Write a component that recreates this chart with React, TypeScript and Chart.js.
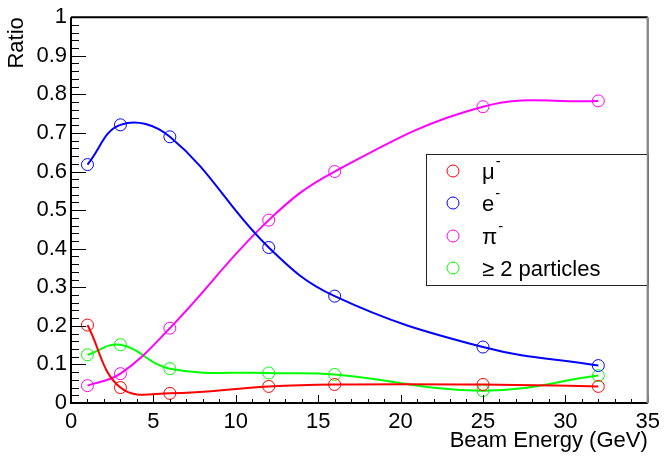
import React, { useEffect, useRef } from 'react';
import { Chart, registerables } from 'chart.js';

Chart.register(...registerables);

const energies = [1, 3, 6, 12, 16, 25, 32];
const muonRatio = [0.202, 0.04, 0.025, 0.043, 0.048, 0.048, 0.043];
const electronRatio = [0.618, 0.721, 0.69, 0.403, 0.277, 0.145, 0.097];
const pionRatio = [0.045, 0.076, 0.194, 0.474, 0.6, 0.768, 0.783];
const multiRatio = [0.125, 0.151, 0.089, 0.078, 0.074, 0.032, 0.071];

const seriesNames = ['μ', 'e', 'π', '≥ 2 particles'];
const seriesSup = ['-', '-', '-', ''];
const seriesColors = ['#ff0000', '#0000ff', '#ff00ff', '#00ff00'];
const seriesValues = [muonRatio, electronRatio, pionRatio, multiRatio];

const xTickLabels = ['0', '5', '10', '15', '20', '25', '30', '35'];
const yTickLabels = ['0', '0.1', '0.2', '0.3', '0.4', '0.5', '0.6', '0.7', '0.8', '0.9', '1'];
const xTitle = 'Beam Energy (GeV)';
const yTitle = 'Ratio';

const FONT = '"Liberation Sans", Arial, sans-serif';

const framePlugin = {
  id: 'rootFrame',
  afterDatasetsDraw(chart: any) {
    const { ctx, chartArea: a, scales } = chart;
    const xs = scales.x;
    const ys = scales.y;
    ctx.save();
    // ticks (inward)
    ctx.strokeStyle = '#000';
    ctx.lineWidth = 1;
    ctx.beginPath();
    for (let v = 0; v <= 35 + 1e-9; v += 1) {
      const px = Math.round(xs.getPixelForValue(v)) + 0.5;
      const len = Math.abs(v % 5) < 1e-9 ? 8 : 4;
      ctx.moveTo(px, a.bottom);
      ctx.lineTo(px, a.bottom - len);
    }
    for (let i = 0; i <= 50; i++) {
      const v = i * 0.02;
      const py = Math.round(ys.getPixelForValue(v)) + 0.5;
      const len = i % 5 === 0 ? 15 : 8;
      ctx.moveTo(a.left, py);
      ctx.lineTo(a.left + len, py);
    }
    ctx.stroke();
    // frame
    ctx.beginPath();
    ctx.lineWidth = 2;
    ctx.strokeStyle = '#000';
    ctx.moveTo(a.left, a.top);
    ctx.lineTo(a.right, a.top);
    ctx.moveTo(a.left, a.top);
    ctx.lineTo(a.left, a.bottom);
    ctx.lineTo(a.right, a.bottom);
    ctx.stroke();
    ctx.beginPath();
    ctx.strokeStyle = '#888';
    ctx.lineWidth = 2;
    ctx.moveTo(a.right, a.top);
    ctx.lineTo(a.right, a.bottom);
    ctx.stroke();

    // legend
    const lx = 426;
    const ly = 154;
    const lw = a.right - lx;
    const lh = 131;
    ctx.fillStyle = '#fff';
    ctx.fillRect(lx, ly, lw, lh);
    ctx.strokeStyle = '#222';
    ctx.lineWidth = 1;
    ctx.strokeRect(lx + 0.5, ly + 0.5, lw, lh);
    ctx.strokeStyle = '#888';
    ctx.lineWidth = 2;
    ctx.beginPath();
    ctx.moveTo(a.right, a.top);
    ctx.lineTo(a.right, a.bottom);
    ctx.stroke();
    const rowsY = [171, 203, 236, 268];
    ctx.textBaseline = 'middle';
    ctx.textAlign = 'left';
    seriesNames.forEach((name, i) => {
      const y = rowsY[i];
      ctx.beginPath();
      ctx.strokeStyle = seriesColors[i];
      ctx.lineWidth = 1;
      ctx.arc(453, y, 6, 0, Math.PI * 2);
      ctx.stroke();
      ctx.fillStyle = '#000';
      ctx.font = `22px ${FONT}`;
      ctx.fillText(name, 482, y + 2);
      const w = ctx.measureText(name).width;
      if (seriesSup[i]) {
        ctx.font = `15px ${FONT}`;
        ctx.fillText(seriesSup[i], 482 + w + 1, y - 9);
      }
    });
    ctx.restore();
  },
};

export default function App() {
  const ref = useRef<HTMLCanvasElement | null>(null);
  useEffect(() => {
    document.body.style.margin = '0';
    const canvas = ref.current;
    if (!canvas) return;
    const datasets = seriesValues.map((vals, i) => ({
      label: seriesNames[i],
      data: energies.map((x, j) => ({ x, y: vals[j] })),
      borderColor: seriesColors[i],
      backgroundColor: 'rgba(0,0,0,0)',
      borderWidth: 2,
      pointStyle: 'circle',
      pointRadius: 6,
      pointBorderWidth: 1,
      pointBorderColor: seriesColors[i],
      pointBackgroundColor: 'rgba(0,0,0,0)',
      tension: 0.4,
      cubicInterpolationMode: 'default',
      fill: false,
    }));
    const chart = new Chart(canvas, {
      type: 'line',
      data: { datasets: datasets as any },
      options: {
        animation: false,
        responsive: false,
        maintainAspectRatio: false,
        layout: { padding: { top: 13, right: 13, left: 0, bottom: 0 } },
        plugins: { legend: { display: false }, tooltip: { enabled: false } },
        scales: {
          x: {
            type: 'linear',
            min: 0,
            max: 35,
            afterFit: (s: any) => { s.height = 54; },
            grid: { display: false, drawTicks: false },
            border: { display: false },
            ticks: {
              stepSize: 5,
              padding: 6,
              color: '#000',
              font: { family: FONT, size: 22 },
              maxRotation: 0,
              callback: (_v: any, i: number) => xTickLabels[i],
            },
            title: {
              display: true,
              text: xTitle,
              align: 'end',
              color: '#000',
              font: { family: FONT, size: 22 },
              padding: { top: 0, bottom: 3 },
            },
          },
          y: {
            type: 'linear',
            min: 0,
            max: 1,
            afterFit: (s: any) => { s.width = 71; },
            grid: { display: false, drawTicks: false },
            border: { display: false },
            ticks: {
              stepSize: 0.1,
              padding: 4,
              color: '#000',
              font: { family: FONT, size: 22 },
              callback: (_v: any, i: number) => yTickLabels[i],
            },
            title: {
              display: true,
              text: yTitle,
              align: 'end',
              color: '#000',
              font: { family: FONT, size: 22 },
              padding: { top: 4, bottom: 0 },
            },
          },
        },
      },
      plugins: [framePlugin],
    });
    return () => chart.destroy();
  }, []);
  return (
    <div style={{ position: 'fixed', left: 0, top: 0, width: 666, height: 457, background: '#fff' }}>
      <canvas ref={ref} width={666} height={457} style={{ display: 'block', width: 666, height: 457 }} />
    </div>
  );
}
